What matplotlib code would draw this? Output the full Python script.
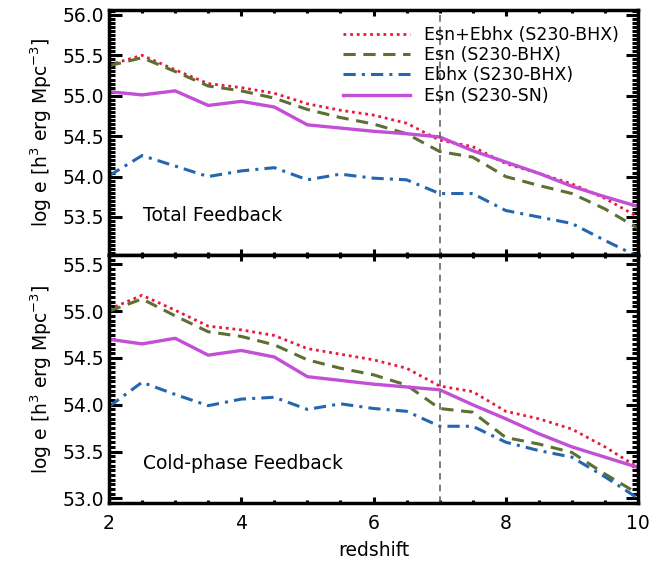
import matplotlib
matplotlib.use("Agg")
import matplotlib.pyplot as plt
from matplotlib.ticker import MultipleLocator

z = [2, 2.5, 3, 3.5, 4, 4.5, 5, 5.5, 6, 6.5, 7, 7.5, 8, 8.5, 9, 9.5, 10]

# Total feedback
tot_sum = [55.38, 55.50, 55.32, 55.15, 55.10, 55.03, 54.90, 54.82, 54.76, 54.66, 54.45, 54.37, 54.16, 54.04, 53.91, 53.73, 53.50]
tot_esn = [55.37, 55.47, 55.30, 55.12, 55.06, 54.97, 54.83, 54.73, 54.65, 54.53, 54.31, 54.24, 54.00, 53.89, 53.79, 53.60, 53.36]
tot_bhx = [54.01, 54.26, 54.13, 54.00, 54.07, 54.11, 53.96, 54.03, 53.98, 53.96, 53.79, 53.79, 53.58, 53.50, 53.42, 53.21, 53.01]
tot_sn = [55.05, 55.01, 55.06, 54.88, 54.93, 54.86, 54.64, 54.60, 54.56, 54.53, 54.49, 54.32, 54.18, 54.04, 53.88, 53.75, 53.63]

# Cold-phase feedback
cold_sum = [55.02, 55.17, 55.01, 54.84, 54.80, 54.74, 54.60, 54.54, 54.48, 54.39, 54.20, 54.14, 53.93, 53.85, 53.74, 53.55, 53.33]
cold_esn = [55.00, 55.13, 54.95, 54.78, 54.73, 54.64, 54.48, 54.39, 54.32, 54.21, 53.96, 53.92, 53.65, 53.58, 53.49, 53.26, 53.05]
cold_bhx = [53.98, 54.24, 54.11, 53.99, 54.06, 54.08, 53.95, 54.01, 53.96, 53.93, 53.77, 53.77, 53.60, 53.51, 53.44, 53.23, 53.00]
cold_sn = [54.70, 54.65, 54.71, 54.53, 54.58, 54.51, 54.30, 54.26, 54.22, 54.19, 54.16, 54.00, 53.85, 53.69, 53.55, 53.44, 53.33]

labels = ["Esn+Ebhx (S230-BHX)", "Esn (S230-BHX)", "Ebhx (S230-BHX)", "Esn (S230-SN)"]
panel_titles = ["Total Feedback", "Cold-phase Feedback"]
xticks = [2, 4, 6, 8, 10]

c_red = "#e8193c"
c_green = "#5b7031"
c_blue = "#2466b0"
c_purple = "#c24fd6"

plt.rcParams['font.family'] = ['DejaVu Sans']

fig = plt.figure(figsize=(6.71, 5.68), dpi=100)
L, R = 109 / 671, 638 / 671
ax1 = fig.add_axes([L, 1 - 255 / 568, R - L, 245 / 568])
ax2 = fig.add_axes([L, 1 - 503 / 568, R - L, 248 / 568])

def style(ax, ylim, yticks):
    ax.set_xlim(2, 10)
    ax.set_ylim(*ylim)
    ax.set_xticks(xticks)
    ax.set_yticks(yticks)
    ax.xaxis.set_minor_locator(MultipleLocator(0.5))
    ax.yaxis.set_minor_locator(MultipleLocator(0.05))
    ax.tick_params(which='both', direction='in', top=True, right=True, width=2.2)
    ax.tick_params(which='major', axis='y', length=9)
    ax.tick_params(which='minor', axis='y', length=4.5)
    ax.tick_params(which='major', axis='x', length=4, pad=8)
    ax.tick_params(which='minor', axis='x', length=2.5)
    ax.tick_params(labelsize=13.5)
    for s in ax.spines.values():
        s.set_linewidth(2.5)
    ax.axvline(7, color="#666666", ls=(0, (4, 3)), lw=1.2)

def draw(ax, s, e, b, n):
    ax.plot(z, s, color=c_red, ls=(0, (1, 1.4)), lw=2.0, label=labels[0])
    ax.plot(z, e, color=c_green, ls=(0, (4, 2.5)), lw=2.2, label=labels[1])
    ax.plot(z, b, color=c_blue, ls=(0, (4, 2, 1, 2)), lw=2.2, label=labels[2])
    ax.plot(z, n, color=c_purple, ls='-', lw=2.4, label=labels[3])

draw(ax1, tot_sum, tot_esn, tot_bhx, tot_sn)
draw(ax2, cold_sum, cold_esn, cold_bhx, cold_sn)

style(ax1, (53.03, 56.06), [53.5, 54.0, 54.5, 55.0, 55.5, 56.0])
style(ax2, (52.95, 55.6), [53.0, 53.5, 54.0, 54.5, 55.0, 55.5])
ax1.set_yticklabels([f"{v:.1f}" for v in [53.5, 54.0, 54.5, 55.0, 55.5, 56.0]])
ax2.set_yticklabels([f"{v:.1f}" for v in [53.0, 53.5, 54.0, 54.5, 55.0, 55.5]])
ax1.set_xticklabels([])
ax2.set_xticklabels([str(v) for v in xticks])

ax1.text(0.065, 0.16, panel_titles[0], transform=ax1.transAxes, fontsize=13.5, va='center')
ax2.text(0.065, 0.16, panel_titles[1], transform=ax2.transAxes, fontsize=13.5, va='center')

leg = ax1.legend(loc='upper left', bbox_to_anchor=(0.442, 0.935), frameon=False, fontsize=12.5,
                 handlelength=3.85, labelspacing=0.13, borderaxespad=0.0, borderpad=0.0,
                 handletextpad=0.85)

ylab = "log e [h$^{3}$ erg Mpc$^{-3}$]"
ax1.set_ylabel(ylab, fontsize=13.5, labelpad=6)
ax2.set_ylabel(ylab, fontsize=13.5, labelpad=6)
ax2.set_xlabel("redshift", fontsize=13.5, labelpad=6)

fig.savefig("out.png", dpi=100)
